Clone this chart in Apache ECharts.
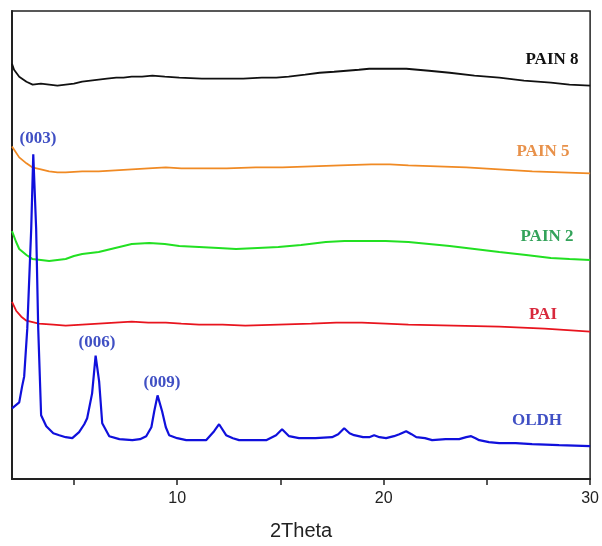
<!DOCTYPE html>
<html>
<head>
<meta charset="utf-8">
<script src="https://cdn.jsdelivr.net/npm/echarts@6/dist/echarts.min.js"></script>
<style>html,body{margin:0;padding:0;background:#fff}#c{width:602px;height:546px}</style>
</head>
<body>
<div id="c"></div>
<script>
// 2Theta tick values / labels
const tickValues = [5, 10, 15, 20, 25, 30];
const labelValues = [10, 20, 30];
const xName = '2Theta';

// Series: [2theta, intensity (a.u., stacked offsets)]
const pain8 = [[2.0,417],[2.1,411],[2.35,404],[2.7,399],[3.0,396],[3.4,397],[3.8,396],[4.2,395],[4.6,396],[5.0,397],[5.4,399],[5.8,400],[6.2,401],[6.6,402],[7.05,403],[7.4,403],[7.8,404],[8.3,404],[8.8,405],[9.4,404],[10.1,403],[11.2,402],[12.4,402],[13.2,402],[14.1,403],[14.8,403],[15.4,404],[16.2,406],[16.9,408],[17.6,409],[18.2,410],[18.8,411],[19.3,412],[20.2,412],[21.1,412],[22.2,410],[23.2,408],[24.4,405],[25.6,403],[26.8,400],[28.1,398],[29.0,396],[30.0,395]];
const pain5 = [[2.0,334],[2.35,323],[2.7,317],[2.98,313],[3.4,311],[3.8,309],[4.2,308],[4.6,308],[5.4,309],[6.2,309],[7.0,310],[7.8,311],[8.6,312],[9.45,313],[10.2,312],[11.06,312],[12.4,312],[13.8,313],[15.1,313],[16.5,314],[17.9,315],[19.4,316],[20.3,316],[21.2,315],[22.6,314],[24.0,313],[25.6,311],[27.2,309],[28.6,308],[30.0,307]];
const pain2 = [[2.0,249],[2.2,238],[2.35,231],[2.7,225],[2.98,221],[3.4,220],[3.8,219],[4.2,220],[4.6,221],[5.0,224],[5.4,226],[6.2,228],[7.0,232],[7.8,236],[8.65,237],[9.4,236],[10.1,234],[11.06,233],[12.0,232],[12.85,231],[13.9,232],[14.9,233],[16.0,235],[17.2,238],[18.1,239],[18.95,239],[20.1,239],[21.2,238],[22.2,236],[23.2,234],[24.4,231],[25.6,228],[26.9,225],[28.1,222],[29.0,221],[30.0,220]];
const pai = [[2.0,178],[2.2,169],[2.45,163],[2.7,159],[3.3,156],[4.0,155],[4.6,154],[5.4,155],[6.2,156],[7.0,157],[7.8,158],[8.6,157],[9.45,157],[10.2,156],[11.06,155],[12.2,155],[13.3,154],[14.9,155],[16.5,156],[17.7,157],[18.95,157],[20.1,156],[21.2,155],[23.4,154],[25.6,153],[27.8,151],[30.0,148]];
const oldh = [[2.0,71],[2.35,77],[2.49,93],[2.59,103],[2.74,151],[2.93,251],[3.03,326],[3.17,251],[3.27,151],[3.41,64],[3.66,53],[4.0,46],[4.29,44],[4.6,42],[4.92,41],[5.25,47],[5.5,55],[5.64,61],[5.88,86],[6.05,124],[6.22,98],[6.37,56],[6.71,43],[7.2,40],[7.83,39],[8.2,40],[8.5,43],[8.75,52],[8.89,68],[9.05,84],[9.27,68],[9.45,52],[9.61,44],[10.0,41],[10.44,39],[11.0,39],[11.4,39],[11.79,48],[12.03,55],[12.37,44],[12.7,41],[13.0,39],[13.7,39],[14.31,39],[14.79,44],[15.08,50],[15.42,43],[15.9,41],[16.7,41],[17.5,42],[17.8,45],[18.09,51],[18.35,46],[18.57,44],[19.0,42],[19.3,42],[19.54,44],[19.8,42],[20.12,41],[20.5,43],[20.76,45],[21.09,48],[21.35,45],[21.58,42],[22.0,41],[22.35,39],[23.0,40],[23.66,40],[24.0,42],[24.24,43],[24.45,41],[24.63,39],[25.1,37],[25.6,36],[26.4,36],[27.19,35],[28.5,34],[30.0,33]];

const serif = '"Liberation Serif", "Times New Roman", serif';
function txt(x, y, s, color) {
  return { type: 'text', x: x, y: y, style: { text: s, fill: color, font: 'bold 17px ' + serif, align: 'center', verticalAlign: 'middle' } };
}

const chart = echarts.init(document.getElementById('c'), null, { renderer: 'canvas' });
chart.setOption({
  animation: false,
  backgroundColor: '#fff',
  grid: { left: 12, right: 11, top: 11, bottom: 65, show: true, borderColor: '#222', borderWidth: 1.5 },
  xAxis: {
    type: 'value', min: 2, max: 30,
    name: xName, nameLocation: 'middle', nameGap: 42,
    nameTextStyle: { fontFamily: '"Liberation Sans", Arial, sans-serif', fontSize: 20, color: '#222' },
    axisLine: { show: true, onZero: false, lineStyle: { color: '#222', width: 2 } },
    axisTick: { show: true, length: 6, lineStyle: { color: '#222', width: 1.5 }, customValues: tickValues },
    axisLabel: { show: true, customValues: labelValues, margin: 12, fontFamily: '"Liberation Sans", Arial, sans-serif', fontSize: 16, color: '#222' },
    splitLine: { show: false }
  },
  yAxis: {
    type: 'value', min: 0, max: 470,
    axisLine: { show: true, lineStyle: { color: '#222', width: 2 } },
    axisTick: { show: false }, axisLabel: { show: false }, splitLine: { show: false }
  },
  series: [
    { name: 'PAIN 8', type: 'line', data: pain8, showSymbol: false, lineStyle: { color: '#111', width: 1.8 } },
    { name: 'PAIN 5', type: 'line', data: pain5, showSymbol: false, lineStyle: { color: '#f08a24', width: 1.8 } },
    { name: 'PAIN 2', type: 'line', data: pain2, showSymbol: false, lineStyle: { color: '#22e022', width: 2 } },
    { name: 'PAI', type: 'line', data: pai, showSymbol: false, lineStyle: { color: '#e8141e', width: 1.8 } },
    { name: 'OLDH', type: 'line', data: oldh, showSymbol: false, lineStyle: { color: '#1010dc', width: 2.2 } }
  ],
  graphic: [
    txt(552, 60, 'PAIN 8', '#111'),
    txt(543, 152, 'PAIN 5', '#e8914a'),
    txt(547, 237, 'PAIN 2', '#33a35a'),
    txt(543, 315, 'PAI', '#d8283c'),
    txt(537, 421, 'OLDH', '#4050c4'),
    txt(38, 139, '(003)', '#4050c4'),
    txt(97, 343, '(006)', '#4050c4'),
    txt(162, 383, '(009)', '#4050c4')
  ]
});
</script>
</body>
</html>
